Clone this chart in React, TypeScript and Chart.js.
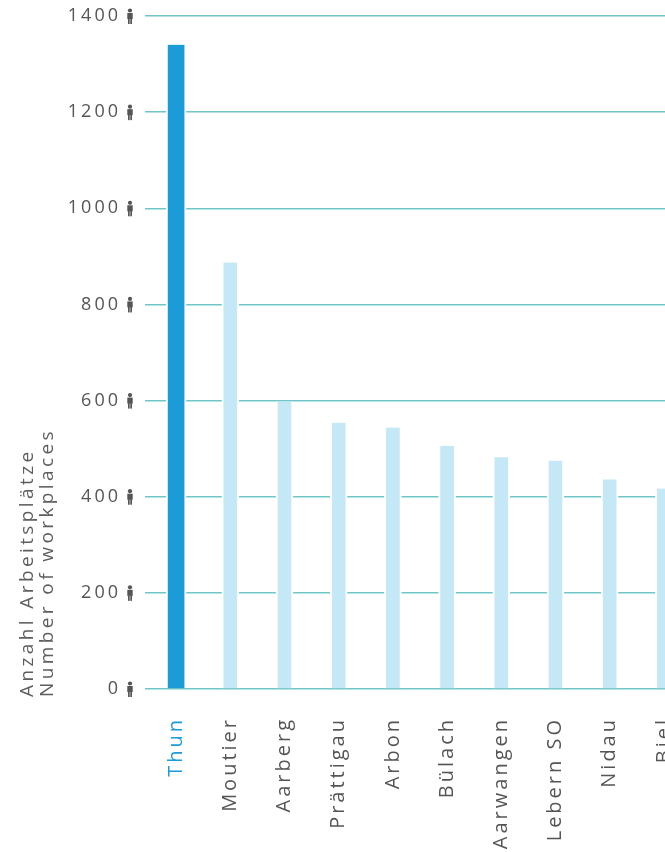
import React, { useEffect, useRef } from "react";
import { Chart, registerables } from "chart.js";

Chart.register(...registerables);

const categories = ["Thun", "Moutier", "Aarberg", "Prättigau", "Arbon", "Bülach", "Aarwangen", "Lebern SO", "Nidau", "Biel"];
const workplaces = [1340, 887, 598, 554, 544, 506, 482, 475, 436, 417];
const highlightIndex = 0;
const yTicks = [0, 200, 400, 600, 800, 1000, 1200, 1400];
const yTitleLines = ["Anzahl Arbeitsplätze", "Number of workplaces"];

const STRONG = "#1b9bd7";
const PALE = "#c4e8f6";
const GRID = "#70c6c6";
const TEXT = "#555555";
const FONT = '"Open Sans", "DejaVu Sans", sans-serif';

export default function App() {
  const ref = useRef<HTMLCanvasElement | null>(null);

  useEffect(() => {
    const canvas = ref.current;
    if (!canvas) return;

    const spacingPlugin = {
      id: "spacing",
      beforeUpdate(chart: any) {
        chart.ctx.letterSpacing = "3px";
      },
      beforeLayout(chart: any) {
        chart.ctx.letterSpacing = "3px";
      },
      beforeDraw(chart: any) {
        chart.ctx.letterSpacing = "3px";
      },
    };

    const decoPlugin = {
      id: "deco",
      afterDraw(chart: any) {
        const ctx = chart.ctx as CanvasRenderingContext2D;
        const y = chart.scales.y;
        ctx.save();
        ctx.fillStyle = "#555";
        yTicks.forEach((v) => {
          const py = y.getPixelForValue(v);
          const cx = 130;
          ctx.beginPath();
          ctx.arc(cx, py - 5.5, 2.1, 0, Math.PI * 2);
          ctx.fill();
          ctx.fillRect(cx - 2.7, py - 3, 5.4, 6);
          ctx.fillRect(cx - 2, py + 2.5, 1.7, 5.5);
          ctx.fillRect(cx + 0.3, py + 2.5, 1.7, 5.5);
        });
        ctx.restore();

        ctx.save();
        ctx.fillStyle = "#5e5e5e";
        ctx.font = `19px ${FONT}`;
        (ctx as any).letterSpacing = "3.4px";
        ctx.textAlign = "left";
        ctx.textBaseline = "alphabetic";
        const xs = [33, 53];
        yTitleLines.forEach((line, i) => {
          ctx.save();
          ctx.translate(xs[i], 697);
          ctx.rotate(-Math.PI / 2);
          ctx.fillText(line, 0, 0);
          ctx.restore();
        });
        ctx.restore();
      },
    };

    const chart = new Chart(canvas, {
      type: "bar",
      data: {
        labels: categories,
        datasets: [
          {
            data: workplaces.map((v, i) => (i === highlightIndex ? v : null)),
            backgroundColor: STRONG,
            borderColor: "#ffffff",
            borderWidth: { left: 2, right: 2, top: 0, bottom: 0 },
            barThickness: 20,
            grouped: false,
          } as any,
          {
            data: workplaces.map((v, i) => (i === highlightIndex ? null : v)),
            backgroundColor: PALE,
            borderColor: "#ffffff",
            borderWidth: { left: 2, right: 2, top: 0, bottom: 0 },
            barThickness: 17,
            grouped: false,
          } as any,
        ],
      },
      options: {
        responsive: false,
        animation: false,
        layout: { padding: { top: 16, right: 19, left: 0, bottom: 0 } },
        plugins: {
          legend: { display: false },
          tooltip: { enabled: false },
        },
        scales: {
          x: {
            grid: { display: false, drawTicks: false },
            border: { display: false },
            ticks: {
              autoSkip: false,
              minRotation: 90,
              maxRotation: 90,
              padding: 28,
              font: { family: FONT, size: 20 },
              color: (c: any) => (c.index === highlightIndex ? STRONG : TEXT),
            },
            afterFit(scale: any) {
              scale.height = 163;
              scale.paddingLeft = 0;
              scale.paddingRight = 0;
            },
          },
          y: {
            min: 0,
            max: 1400,
            afterBuildTicks(scale: any) {
              scale.ticks = yTicks.map((v) => ({ value: v }));
            },
            grid: { color: GRID, lineWidth: 1.5, tickLength: 4, drawTicks: true },
            border: { display: false },
            ticks: {
              padding: 24,
              font: { family: FONT, size: 18 },
              color: TEXT,
              callback: (v: any) => String(v),
            },
            afterFit(scale: any) {
              scale.width = 149;
              scale.paddingTop = 0;
              scale.paddingBottom = 0;
            },
          },
        },
      },
      plugins: [spacingPlugin, decoPlugin],
    });

    return () => chart.destroy();
  }, []);

  return (
    <div style={{ position: "fixed", left: 0, top: 0, width: 665, height: 852, overflow: "hidden", background: "#fff" }}>
      <canvas ref={ref} width={710} height={852} style={{ width: 710, height: 852, display: "block" }} />
    </div>
  );
}
